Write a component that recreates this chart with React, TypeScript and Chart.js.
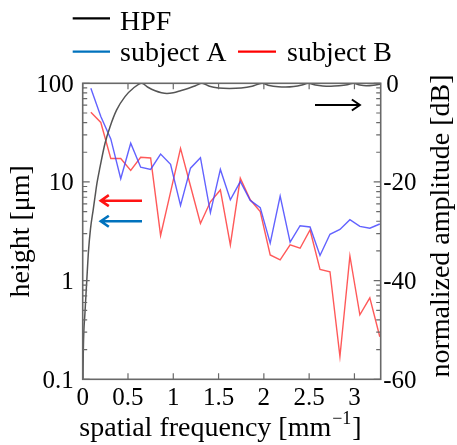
import React, { useEffect, useRef } from 'react';
import { Chart, registerables } from 'chart.js';
Chart.register(...registerables);

// spatial frequency samples [mm^-1]
const freqs = [0.09, 0.2, 0.31, 0.42, 0.53, 0.64, 0.75, 0.86, 0.97, 1.08, 1.19, 1.3, 1.41, 1.52, 1.63,
  1.74, 1.85, 1.96, 2.07, 2.18, 2.29, 2.4, 2.51, 2.62, 2.73, 2.84, 2.95, 3.06, 3.17, 3.28];
// height [um]
const subjectA = [89, 46, 27.3, 10.8, 24.7, 14.1, 13.4, 19.2, 15.1, 5.8, 13.8, 17.6, 4.9, 13.4, 6.6,
  10.1, 6.5, 5.5, 2.4, 7.2, 2.45, 3.6, 3.5, 1.8, 2.95, 3.3, 4.15, 3.55, 3.4, 3.75];
const subjectB = [50.8, 40.1, 17.3, 17.3, 13.1, 17.8, 17.5, 2.87, 7.9, 21.9, 9.1, 3.8, 6.3, 8.3, 2.3,
  10.9, 6.6, 5.0, 1.82, 1.62, 2.3, 2.13, 3.26, 1.3, 1.23, 0.17, 1.78, 0.45, 0.67, 0.27];
// HPF response [dB]
const hpfFreq = [0.003, 0.007, 0.025, 0.045, 0.064, 0.086, 0.117, 0.136, 0.158, 0.191, 0.246, 0.302, 0.375,
  0.467, 0.558, 0.651, 0.72, 0.8, 0.87, 0.93, 1.0, 1.08, 1.17, 1.25, 1.317, 1.4, 1.5, 1.62, 1.75, 1.87, 1.98,
  2.06, 2.16, 2.24, 2.33, 2.42, 2.49, 2.57, 2.65, 2.74, 2.83, 2.92, 2.99, 3.06, 3.13, 3.21, 3.29];
const hpfDb = [-60, -54, -46.5, -40, -34, -29.5, -25.5, -23, -20.2, -17, -12.2, -8.8, -5.4,
  -2.7, -1.0, 0, -0.8, -1.5, -1.9, -2.05, -1.9, -1.5, -1.0, -0.45, 0, -0.6, -0.95, -1.05, -0.95, -0.6, 0,
  -0.45, -0.7, -0.75, -0.65, -0.35, 0, -0.35, -0.55, -0.6, -0.5, -0.3, 0, -0.35, -0.5, -0.4, -0.15];

const xTicks = [0, 0.5, 1, 1.5, 2, 2.5, 3];
const xTickLabels = ['0', '0.5', '1', '1.5', '2', '2.5', '3'];
const leftTicks = [0.1, 1, 10, 100];
const leftTickLabels = ['0.1', '1', '10', '100'];
const leftMinor = [0.2, 0.3, 0.4, 0.5, 0.6, 0.7, 0.8, 0.9, 2, 3, 4, 5, 6, 7, 8, 9, 20, 30, 40, 50, 60, 70, 80, 90];
const rightTicks = [0, -20, -40, -60];
const rightTickLabels = ['0', '-20', '-40', '-60'];

// annotation arrows: [x from, x to (tip), y value]
const redArrow = [0.655, 0.2, 6.46];
const blueArrow = [0.655, 0.2, 4.0];
const blackArrow = [2.565, 3.06, -4.4];

const SERIF = '"Liberation Serif", "Times New Roman", serif';
const FRAME = 'rgb(105,105,105)';

const decor = {
  id: 'decor',
  afterDraw(chart: any) {
    const ctx = chart.ctx;
    const a = chart.chartArea;
    const xs = chart.scales.x;
    const ys = chart.scales.y;
    const y2 = chart.scales.y2;
    ctx.save();
    // frame
    ctx.strokeStyle = FRAME;
    ctx.lineWidth = 1.6;
    ctx.strokeRect(a.left, a.top, a.right - a.left, a.bottom - a.top);
    // ticks
    ctx.lineWidth = 1.2;
    ctx.beginPath();
    xTicks.forEach((v) => {
      const px = xs.getPixelForValue(v);
      ctx.moveTo(px, a.bottom); ctx.lineTo(px, a.bottom - 6);
      ctx.moveTo(px, a.top); ctx.lineTo(px, a.top + 6);
    });
    leftMinor.forEach((v) => {
      const py = ys.getPixelForValue(v);
      ctx.moveTo(a.left, py); ctx.lineTo(a.left + 4.5, py);
      ctx.moveTo(a.right, py); ctx.lineTo(a.right - 4.5, py);
    });
    leftTicks.forEach((v) => {
      const py = ys.getPixelForValue(v);
      ctx.moveTo(a.left, py); ctx.lineTo(a.left + 7, py);
      ctx.moveTo(a.right, py); ctx.lineTo(a.right - 7, py);
    });
    ctx.stroke();

    // tick labels
    ctx.fillStyle = '#000';
    ctx.font = `25px ${SERIF}`;
    ctx.textBaseline = 'alphabetic';
    ctx.textAlign = 'center';
    xTicks.forEach((v, i) => {
      ctx.fillText(xTickLabels[i], xs.getPixelForValue(v), 405);
    });
    ctx.textAlign = 'right';
    leftTicks.forEach((v, i) => {
      ctx.fillText(leftTickLabels[i], a.left - 9, ys.getPixelForValue(v) + 8.5);
    });
    ctx.textAlign = 'left';
    rightTicks.forEach((v, i) => {
      const lab = rightTickLabels[i];
      ctx.fillText(lab, a.right + (lab === '0' ? 5.5 : 2.5), y2.getPixelForValue(v) + 8.5);
    });

    // axis titles
    ctx.font = `28px ${SERIF}`;
    const main = 'spatial frequency [mm';
    ctx.font = `28px ${SERIF}`;
    const w1 = ctx.measureText(main).width;
    ctx.font = `18px ${SERIF}`;
    const w2 = ctx.measureText('\u22121').width;
    ctx.font = `28px ${SERIF}`;
    const w3 = ctx.measureText(']').width;
    let x0 = 219.5 - (w1 + w2 + w3) / 2;
    ctx.textAlign = 'left';
    ctx.fillText(main, x0, 436);
    ctx.font = `18px ${SERIF}`;
    ctx.fillText('\u22121', x0 + w1 + 1, 424);
    ctx.font = `28px ${SERIF}`;
    ctx.fillText(']', x0 + w1 + w2 + 2, 436);

    ctx.save();
    ctx.translate(29, (a.top + a.bottom) / 2);
    ctx.rotate(-Math.PI / 2);
    ctx.textAlign = 'center';
    ctx.fillText('height [\u03bcm]', 0, 0);
    ctx.restore();

    ctx.save();
    ctx.translate(449, 226);
    ctx.rotate(-Math.PI / 2);
    ctx.textAlign = 'center';
    ctx.fillText('normalized amplitude [dB]', 0, 0);
    ctx.restore();

    // legend
    ctx.lineWidth = 2.2;
    const legLine = (x1: number, x2: number, y: number, c: string) => {
      ctx.strokeStyle = c;
      ctx.beginPath(); ctx.moveTo(x1, y); ctx.lineTo(x2, y); ctx.stroke();
    };
    legLine(72.7, 110, 18.3, '#000');
    legLine(72.7, 110, 51.7, 'rgb(0,114,189)');
    legLine(238, 276, 51.7, 'rgb(255,0,0)');
    ctx.fillStyle = '#000';
    ctx.textAlign = 'left';
    ctx.fillText('HPF', 120, 29.5);
    ctx.fillText('subject A', 120, 61);
    ctx.fillText('subject B', 287, 61);

    // arrows
    const arrow = (spec: number[], yScale: any, c: string, lw: number) => {
      const xa = xs.getPixelForValue(spec[0]);
      const xb = xs.getPixelForValue(spec[1]);
      const py = yScale.getPixelForValue(spec[2]);
      const dir = xb > xa ? -1 : 1;
      ctx.strokeStyle = c;
      ctx.lineWidth = lw;
      ctx.beginPath();
      ctx.moveTo(xa, py); ctx.lineTo(xb, py);
      ctx.moveTo(xb + dir * 8, py - 5.5); ctx.lineTo(xb, py); ctx.lineTo(xb + dir * 8, py + 5.5);
      ctx.stroke();
    };
    arrow(redArrow, ys, 'rgb(255,20,20)', 2.6);
    arrow(blueArrow, ys, 'rgb(0,114,189)', 2.6);
    arrow(blackArrow, y2, '#000', 2);
    ctx.restore();
  },
};

export default function App() {
  const ref = useRef<HTMLCanvasElement>(null);
  useEffect(() => {
    if (!ref.current) return;
    const chart = new Chart(ref.current, {
      type: 'line',
      data: {
        datasets: [
          {
            label: 'HPF',
            data: hpfFreq.map((f, i) => ({ x: f, y: hpfDb[i] })),
            yAxisID: 'y2',
            borderColor: 'rgb(85,85,85)',
            borderWidth: 1.5,
            pointRadius: 0,
            cubicInterpolationMode: 'monotone',
          },
          {
            label: 'subject A',
            data: freqs.map((f, i) => ({ x: f, y: subjectA[i] })),
            yAxisID: 'y',
            borderColor: 'rgba(70,70,255,0.85)',
            borderWidth: 1.4,
            pointRadius: 0,
          },
          {
            label: 'subject B',
            data: freqs.map((f, i) => ({ x: f, y: subjectB[i] })),
            yAxisID: 'y',
            borderColor: 'rgba(255,60,60,0.85)',
            borderWidth: 1.4,
            pointRadius: 0,
          },
        ],
      },
      options: {
        responsive: false,
        animation: false,
        devicePixelRatio: 1,
        layout: { padding: { left: 82.7, right: 76.3, top: 83.3, bottom: 65.7 } },
        plugins: { legend: { display: false }, tooltip: { enabled: false } },
        scales: {
          x: { type: 'linear', min: 0, max: 3.29, display: false },
          y: { type: 'logarithmic', min: 0.1, max: 100, display: false },
          y2: { type: 'linear', min: -60, max: 0, display: false },
        },
      },
      plugins: [decor],
    } as any);
    return () => chart.destroy();
  }, []);
  return (
    <div style={{ position: 'absolute', left: 0, top: 0, width: 457, height: 445, background: '#fff' }}>
      <canvas ref={ref} width={457} height={445} style={{ width: 457, height: 445, display: 'block' }} />
    </div>
  );
}
